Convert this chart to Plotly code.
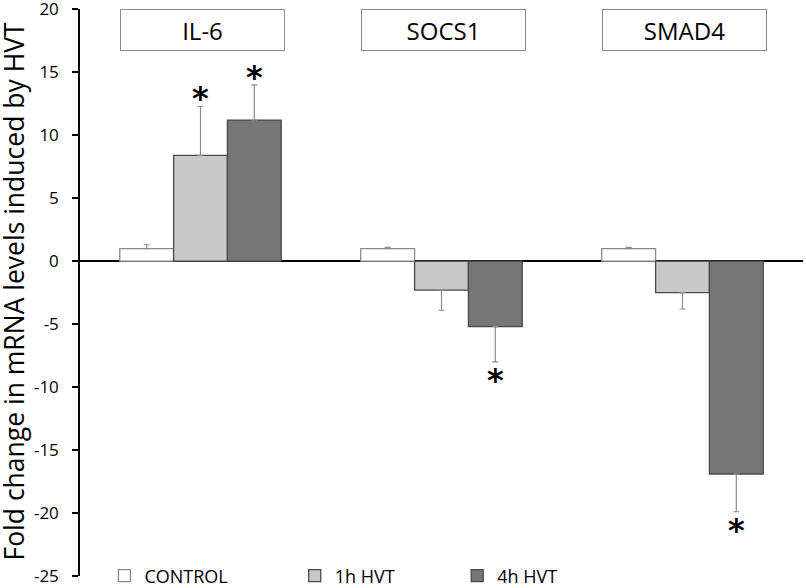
import plotly.graph_objects as go

genes = ["IL-6", "SOCS1", "SMAD4"]
series_names = ["CONTROL", "1h HVT", "4h HVT"]
control = [1.0, 1.0, 1.0]
control_err = [0.3, 0.1, 0.1]
h1 = [8.4, -2.3, -2.5]
h1_err = [3.9, 1.6, 1.3]
h4 = [11.2, -5.2, -16.9]
h4_err = [2.8, 2.8, 3.0]
# significance marks (gene index, series index)
significant = [(0, 1), (0, 2), (1, 2), (2, 2)]

y_ticks = [20, 15, 10, 5, 0, -5, -10, -15, -20, -25]
y_title = "Fold change in mRNA levels induced by HVT"

FONT = "Open Sans"
fills = ["#ffffff", "#c8c8c8", "#767676"]
outlines = ["#8a8a8a", "#4a4a4a", "#4a4a4a"]

values = [control, h1, h4]
errors = [control_err, h1_err, h4_err]

fig = go.Figure()
legend_ids = ["legend", "legend2", "legend3"]
for i, name in enumerate(series_names):
    vals = values[i]
    errs = errors[i]
    plus = [e if v >= 0 else 0 for v, e in zip(vals, errs)]
    minus = [e if v < 0 else 0 for v, e in zip(vals, errs)]
    fig.add_trace(go.Bar(
        x=genes, y=vals, name=name,
        marker=dict(color=fills[i], line=dict(color=outlines[i], width=1.3)),
        error_y=dict(type="data", symmetric=False, array=plus, arrayminus=minus,
                     color="#8c8c8c", thickness=1.2, width=3),
        legend=legend_ids[i],
    ))

annotations = []
offsets = [-1, 0, 1]
for gi, si in significant:
    v = values[si][gi]
    e = errors[si][gi]
    end = v + e if v >= 0 else v - e
    annotations.append(dict(
        x=gi, y=end, xref="x", yref="y", text="<b>*</b>", showarrow=False,
        xshift=offsets[si] * 54, yanchor="middle",
        yshift=8 if v >= 0 else -18,
        font=dict(family="DejaVu Sans", size=32, color="black"),
    ))

for gi, g in enumerate(genes):
    annotations.append(dict(
        x=gi, y=20, xref="x", yref="y", text=g, showarrow=False,
        xanchor="center", yanchor="top", xshift=2,
        width=163, height=40, borderpad=0,
        bordercolor="#8c8c8c", borderwidth=1, bgcolor="white",
        font=dict(family=FONT, size=24, color="black"),
    ))

annotations.append(dict(
    x=0, y=0.5, xref="paper", yref="paper", text=y_title, textangle=-90,
    showarrow=False, xanchor="center", yanchor="middle", xshift=-67, yshift=1,
    font=dict(family=FONT, size=26.5, color="black"),
))

leg_common = dict(y=0, xanchor="left", yanchor="middle", orientation="h",
                  font=dict(family=FONT, size=18), bgcolor="rgba(0,0,0,0)")

fig.update_layout(
    width=806, height=588,
    margin=dict(l=80, r=3, t=9, b=12, autoexpand=False),
    paper_bgcolor="white", plot_bgcolor="white",
    barmode="group", bargap=0.33, bargroupgap=0,
    font=dict(family=FONT, color="black"),
    annotations=annotations,
    showlegend=True,
    legend=dict(x=0.0338, **leg_common),
    legend2=dict(x=0.297, **leg_common),
    legend3=dict(x=0.5217, **leg_common),
    xaxis=dict(range=[-0.5, 2.5], showticklabels=False, showline=False,
               showgrid=False, zeroline=False, ticks="", automargin=False),
    yaxis=dict(range=[-25, 20.02], tickvals=y_ticks, ticktext=[str(t) for t in y_ticks],
               showline=True, linecolor="black", linewidth=1.5,
               ticks="outside", ticklen=6, tickcolor="black", tickwidth=1.5,
               ticklabelstandoff=10, ticklabeloverflow="allow",
               showgrid=False, zeroline=True, zerolinecolor="black", zerolinewidth=1.5,
               tickfont=dict(family=FONT, size=17), automargin=False),
)

fig.write_html("out.html", config={"displayModeBar": False},
               post_script="document.body.style.margin='0';")
